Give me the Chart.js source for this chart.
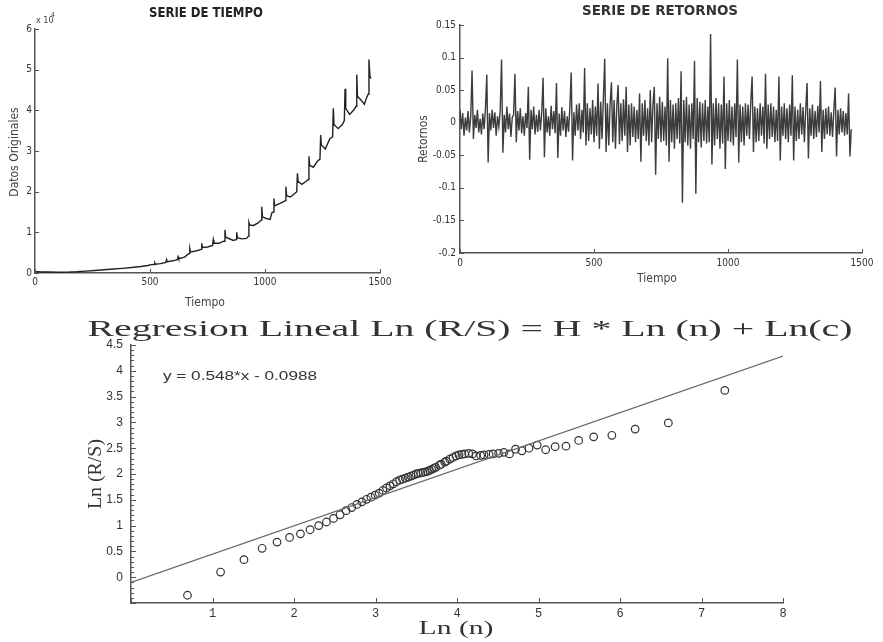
<!DOCTYPE html>
<html>
<head>
<meta charset="utf-8">
<script src="https://cdn.jsdelivr.net/npm/chart.js@4.4.1/dist/chart.umd.min.js"></script>
<style>
  html, body { margin: 0; padding: 0; background: #fff; }
  body { width: 883px; height: 642px; position: relative; overflow: hidden; }
  canvas { position: absolute; }
</style>
</head>
<body>
<canvas id="serieChart" width="420" height="312" style="left:0px;top:0px"></canvas>
<canvas id="retornosChart" width="478" height="300" style="left:405px;top:0px"></canvas>
<canvas id="regresionChart" width="883" height="334" style="left:0px;top:308px"></canvas>
<script>
// Serie de tiempo (datos originales)
const tiempoSerie = [0, 15, 30, 60, 100, 140, 180, 220, 260, 300, 340, 380, 420, 460, 490, 505, 518, 521, 524, 545,
  569, 572, 575, 600, 619, 622, 625, 650, 670, 673, 676, 700, 722, 725, 728, 750, 772, 775, 778, 800,
  815, 823, 826, 829, 850, 862, 874, 877, 880, 900, 920, 927, 930, 933, 950, 970, 983, 986, 989, 1005,
  1022, 1030, 1036, 1039, 1042, 1060, 1080, 1088, 1091, 1094, 1110, 1128, 1138, 1141, 1144, 1160, 1178, 1188, 1191, 1194,
  1210, 1228, 1239, 1242, 1245, 1262, 1282, 1294, 1297, 1300, 1318, 1336, 1345, 1348, 1351, 1368, 1385, 1396, 1399, 1402,
  1418, 1432, 1441, 1449, 1452, 1456, 1460];
const datosSerie = [350, 300, 250, 230, 200, 220, 300, 450, 620, 800, 980, 1150, 1350, 1600, 1850, 2050, 2100, 2500, 2150, 2300,
  2600, 3300, 2800, 3000, 3300, 4000, 3500, 3900, 4800, 6000, 5200, 5400, 5800, 7300, 6300, 6400, 6800, 8200, 7300, 7300,
  7700, 7800, 10600, 8800, 8300, 8000, 8200, 10000, 8700, 8400, 8500, 9000, 12400, 11800, 11700, 12300, 13000, 16300, 13800, 13400,
  13200, 14800, 15000, 18300, 16500, 17000, 17500, 17800, 21200, 19000, 18700, 19500, 20000, 24500, 22500, 21800, 22500, 23000, 28700, 26500,
  26000, 27500, 28000, 33900, 31500, 30500, 33000, 33500, 40500, 36500, 35500, 36500, 37500, 45300, 40500, 39000, 40000, 41000, 48800, 43500,
  42500, 41500, 43000, 44000, 52500, 48500, 47800];

// Serie de retornos, un valor cada 5 periodos
const pasoRetornos = 5;
const retornos = [
  0.02, -0.01, 0.015, -0.02, 0.008, -0.012, 0.018, -0.015, 0.01, 0.08,
  -0.025, 0.012, -0.008, 0.02, -0.015, 0.006, -0.018, 0.014, -0.01, 0.022,
  0.074, -0.061, 0.015, -0.012, 0.02, -0.008, 0.016, -0.02, 0.01, -0.006,
  0.018, 0.097, -0.046, 0.012, -0.015, 0.025, -0.01, 0.014, -0.022, 0.008,
  0.012, 0.075, -0.03, 0.018, -0.012, 0.022, -0.016, 0.01, -0.02, 0.015,
  -0.008, 0.055, -0.057, 0.02, -0.01, 0.025, -0.018, 0.012, -0.014, 0.02,
  -0.012, 0.016, 0.069, -0.053, 0.022, -0.015, 0.01, -0.02, 0.026, -0.01,
  0.018, -0.016, 0.061, -0.054, 0.014, -0.02, 0.024, -0.012, 0.018, -0.022,
  0.01, -0.014, 0.025, 0.077, -0.058, 0.016, -0.02, 0.028, -0.012, 0.03,
  -0.025, 0.02, -0.015, 0.084, -0.035, 0.03, -0.028, 0.022, -0.018, 0.035,
  -0.03, 0.025, -0.02, 0.06, -0.04, 0.032, -0.025, 0.038, 0.098, -0.045,
  0.03, -0.035, 0.028, 0.062, -0.03, 0.035, -0.04, 0.025, 0.058, -0.033,
  0.03, -0.028, 0.036, -0.02, 0.055, -0.045, 0.028, -0.035, 0.03, -0.022,
  0.025, -0.03, 0.02, -0.025, 0.045, -0.06, 0.03, -0.02, 0.035, -0.028,
  0.022, -0.035, 0.05, -0.03, 0.028, 0.055, -0.08, 0.03, -0.025, 0.04,
  -0.03, 0.032, -0.028, 0.025, -0.035, 0.099, -0.06, 0.035, -0.03, 0.028,
  -0.04, 0.03, -0.025, 0.038, -0.032, 0.079, -0.123, 0.035, -0.03, 0.04,
  -0.035, 0.028, -0.04, 0.03, -0.025, 0.095, -0.109, 0.038, -0.03, 0.032,
  -0.038, 0.03, -0.028, 0.035, -0.032, 0.025, -0.03, 0.136, -0.064, 0.03,
  -0.035, 0.038, -0.025, 0.03, -0.04, 0.028, -0.032, 0.071, -0.071, 0.03,
  -0.028, 0.035, -0.03, 0.025, -0.035, 0.03, -0.022, 0.097, -0.061, 0.028,
  -0.03, 0.025, -0.035, 0.03, -0.02, 0.028, -0.025, 0.032, 0.071, -0.045,
  0.025, -0.03, 0.022, -0.028, 0.03, -0.02, 0.025, -0.032, 0.075, -0.04,
  0.028, -0.025, 0.03, -0.022, 0.025, -0.03, 0.02, -0.028, 0.071, -0.058,
  0.025, -0.02, 0.03, -0.025, 0.022, -0.03, 0.028, -0.02, 0.073, -0.058,
  0.025, -0.028, 0.02, -0.025, 0.03, -0.018, 0.024, -0.03, 0.02, 0.061,
  -0.055, 0.022, -0.02, 0.028, -0.025, 0.018, -0.022, 0.026, -0.015, 0.064,
  -0.045, 0.02, -0.025, 0.022, -0.018, 0.025, -0.02, 0.016, -0.022, 0.02,
  0.054, -0.052, 0.02, -0.018, 0.022, -0.015, 0.018, -0.02, 0.015, -0.018,
  0.045, -0.052, -0.01
];

// Regresion R/S: Ln(n) y Ln(R/S)
const lnN = [0.693, 1.099, 1.386, 1.609, 1.792, 1.946, 2.079, 2.197, 2.303, 2.398,
  2.485, 2.565, 2.639, 2.708, 2.773, 2.833, 2.890, 2.944, 2.996, 3.045,
  3.091, 3.135, 3.178, 3.219, 3.258, 3.296, 3.332, 3.367, 3.401, 3.434,
  3.466, 3.497, 3.526, 3.555, 3.584, 3.611, 3.638, 3.664, 3.689, 3.714,
  3.738, 3.784, 3.807, 3.850, 3.871, 3.912, 3.951, 3.989, 4.025, 4.060,
  4.094, 4.143, 4.190, 4.234, 4.290, 4.331, 4.394, 4.443, 4.511, 4.575,
  4.644, 4.718, 4.796, 4.883, 4.984, 5.088, 5.204, 5.338, 5.493, 5.677,
  5.900, 6.186, 6.593, 7.286];
const lnRS = [-0.35, 0.10, 0.34, 0.56, 0.68, 0.77, 0.84, 0.92, 1.00, 1.07,
  1.14, 1.21, 1.29, 1.35, 1.41, 1.46, 1.51, 1.55, 1.59, 1.63,
  1.68, 1.73, 1.77, 1.81, 1.85, 1.88, 1.90, 1.92, 1.94, 1.96,
  1.98, 2.00, 2.01, 2.02, 2.03, 2.04, 2.05, 2.07, 2.09, 2.11,
  2.13, 2.17, 2.19, 2.23, 2.25, 2.29, 2.32, 2.35, 2.37, 2.38,
  2.39, 2.40, 2.39, 2.35, 2.36, 2.37, 2.38, 2.39, 2.40, 2.42,
  2.39, 2.48, 2.45, 2.50, 2.56, 2.47, 2.53, 2.54, 2.65, 2.72,
  2.75, 2.87, 2.99, 3.62];
// recta ajustada y = 0.548*x - 0.0988 (extremos)
const rectaX = [0, 8];
const rectaY = [-0.099, 4.285];

// marcas de los ejes
const ticksTiempo = [0, 500, 1000, 1500];
const ticksDatos = [0, 10000, 20000, 30000, 40000, 50000, 60000];
const ticksRetornos = [-0.2, -0.15, -0.1, -0.05, 0, 0.05, 0.1, 0.15];
const ticksLnN = [0, 1, 2, 3, 4, 5, 6, 7, 8];
const ticksLnRS = [-0.5, 0, 0.5, 1, 1.5, 2, 2.5, 3, 3.5, 4, 4.5];
const menoresLnRS = [-0.4, -0.3, -0.2, -0.1, 0.1, 0.2, 0.3, 0.4, 0.6, 0.7, 0.8, 0.9, 1.1, 1.2, 1.3, 1.4,
  1.6, 1.7, 1.8, 1.9, 2.1, 2.2, 2.3, 2.4, 2.6, 2.7, 2.8, 2.9, 3.1, 3.2, 3.3, 3.4, 3.6, 3.7, 3.8, 3.9,
  4.1, 4.2, 4.3, 4.4];

const fuenteAngosta = "'Liberation Sans Narrow', 'DejaVu Sans Condensed', 'Arial Narrow', sans-serif";
const colorEje = "#555";

// textos dibujados a mano (titulos, etiquetas)
function crearTextos(items) {
  return {
    id: "textos",
    afterDraw(chart) {
      const ctx = chart.ctx;
      items.forEach((it) => {
        ctx.save();
        ctx.font = it.font;
        ctx.fillStyle = it.color || "#222";
        ctx.textBaseline = "middle";
        ctx.textAlign = it.align || "center";
        ctx.translate(it.x, it.y);
        if (it.rotate) ctx.rotate(-Math.PI / 2);
        if (it.width) {
          const w = ctx.measureText(it.text).width;
          ctx.scale(it.width / w, 1);
        }
        ctx.fillText(it.text, 0, 0);
        ctx.restore();
      });
    },
  };
}

// marcas hacia adentro, estilo matlab
function crearMarcas(largo, menoresY, largoMenor) {
  return {
    id: "marcas",
    afterDraw(chart) {
      const ctx = chart.ctx;
      const area = chart.chartArea;
      const sx = chart.scales.x;
      const sy = chart.scales.y;
      ctx.save();
      ctx.strokeStyle = colorEje;
      ctx.lineWidth = 1;
      ctx.beginPath();
      sx.ticks.forEach((t) => {
        const px = Math.round(sx.getPixelForValue(t.value)) + 0.5;
        ctx.moveTo(px, area.bottom);
        ctx.lineTo(px, area.bottom - largo);
      });
      sy.ticks.forEach((t) => {
        const py = Math.round(sy.getPixelForValue(t.value)) + 0.5;
        ctx.moveTo(area.left, py);
        ctx.lineTo(area.left + largo, py);
      });
      (menoresY || []).forEach((v) => {
        const py = Math.round(sy.getPixelForValue(v)) + 0.5;
        ctx.moveTo(area.left, py);
        ctx.lineTo(area.left + largoMenor, py);
      });
      ctx.stroke();
      ctx.restore();
    },
  };
}

function ejeLineal(min, max, lista, fuente, padding, callback, ajuste) {
  return {
    type: "linear",
    min: min,
    max: max,
    afterBuildTicks: (s) => { s.ticks = lista.map((v) => ({ value: v })); },
    afterFit: ajuste,
    grid: { display: false, drawTicks: false },
    border: { display: true, color: colorEje, width: 1.5 },
    ticks: { font: fuente, color: "#333", padding: padding, autoSkip: false, maxRotation: 0, callback: callback },
  };
}

// Grafico 1 - Serie de tiempo
new Chart(document.getElementById("serieChart"), {
  type: "scatter",
  data: {
    datasets: [{
      data: tiempoSerie.map((t, i) => ({ x: t, y: datosSerie[i] })),
      showLine: true,
      borderColor: "#222",
      borderWidth: 1.4,
      pointRadius: 0,
      tension: 0,
    }],
  },
  options: {
    responsive: false,
    animation: false,
    layout: { padding: { left: 0, top: 29, right: 40, bottom: 0 } },
    plugins: { legend: { display: false }, tooltip: { enabled: false } },
    scales: {
      x: ejeLineal(0, 1500, ticksTiempo, { family: fuenteAngosta, size: 10 }, 3, (v) => String(v), (s) => { s.height = 39; }),
      y: ejeLineal(0, 60000, ticksDatos, { family: fuenteAngosta, size: 10 }, 3, (v) => String(v / 10000), (s) => { s.width = 35; }),
    },
  },
  plugins: [
    crearMarcas(4),
    crearTextos([
      { text: "SERIE DE TIEMPO", x: 206, y: 13, font: "bold 14px " + fuenteAngosta, width: 114 },
      { text: "x 10", x: 36, y: 21, font: "9px " + fuenteAngosta, align: "left", color: "#444" },
      { text: "4", x: 51, y: 15, font: "7px " + fuenteAngosta, align: "left", color: "#444" },
      { text: "Datos Originales", x: 15, y: 152, font: "12px " + fuenteAngosta, rotate: true, color: "#444" },
      { text: "Tiempo", x: 205, y: 303, font: "12px " + fuenteAngosta, color: "#444" },
    ]),
  ],
});

// Grafico 2 - Serie de retornos
new Chart(document.getElementById("retornosChart"), {
  type: "scatter",
  data: {
    datasets: [{
      data: retornos.map((r, i) => ({ x: i * pasoRetornos, y: r })),
      showLine: true,
      borderColor: "#3c3c3c",
      borderWidth: 1.4,
      pointRadius: 0,
      tension: 0,
    }],
  },
  options: {
    responsive: false,
    animation: false,
    layout: { padding: { left: 0, top: 25, right: 21, bottom: 0 } },
    plugins: { legend: { display: false }, tooltip: { enabled: false } },
    scales: {
      x: ejeLineal(0, 1500, ticksTiempo, { family: fuenteAngosta, size: 10 }, 4, (v) => String(v), (s) => { s.height = 47; }),
      y: ejeLineal(-0.2, 0.15, ticksRetornos, { family: fuenteAngosta, size: 10 }, 4, (v) => String(+v.toFixed(2)), (s) => { s.width = 55; }),
    },
  },
  plugins: [
    crearMarcas(4),
    crearTextos([
      { text: "SERIE DE RETORNOS", x: 255, y: 11, font: "bold 14px " + fuenteAngosta, width: 156, color: "#333" },
      { text: "Retornos", x: 19, y: 139, font: "12px " + fuenteAngosta, rotate: true, color: "#444" },
      { text: "Tiempo", x: 252, y: 279, font: "12px " + fuenteAngosta, color: "#444" },
    ]),
  ],
});

// Grafico 3 - Regresion lineal
new Chart(document.getElementById("regresionChart"), {
  type: "scatter",
  data: {
    datasets: [
      {
        data: rectaX.map((x, i) => ({ x: x, y: rectaY[i] })),
        showLine: true,
        borderColor: "#6a6a6a",
        borderWidth: 1.2,
        pointRadius: 0,
      },
      {
        data: lnN.map((x, i) => ({ x: x, y: lnRS[i] })),
        pointStyle: "circle",
        pointRadius: 3.8,
        borderColor: "#333",
        borderWidth: 1.2,
        backgroundColor: "rgba(0,0,0,0)",
      },
    ],
  },
  options: {
    responsive: false,
    animation: false,
    layout: { padding: { left: 0, top: 37, right: 100, bottom: 0 } },
    plugins: { legend: { display: false }, tooltip: { enabled: false } },
    scales: {
      x: ejeLineal(0, 8, ticksLnN, { family: "'Liberation Mono', monospace", size: 12 }, 4,
        (v) => (v === 0 ? "" : String(v)), (s) => { s.height = 39; }),
      y: ejeLineal(-0.5, 4.5, ticksLnRS, { family: "'Liberation Sans', sans-serif", size: 12 }, 8,
        (v) => (v === -0.5 ? "" : String(v)), (s) => { s.width = 131; }),
    },
  },
  plugins: [
    crearMarcas(5, menoresLnRS, 3),
    crearTextos([
      { text: "Regresion Lineal Ln (R/S) = H * Ln (n) + Ln(c)", x: 470, y: 22, font: "24px 'Liberation Serif', serif", width: 765, color: "#333" },
      { text: "y = 0.548*x - 0.0988", x: 163, y: 69, font: "12px 'Liberation Sans', sans-serif", align: "left", width: 154, color: "#333" },
      { text: "Ln (R/S)", x: 96, y: 166, font: "18px 'Liberation Serif', serif", rotate: true, width: 70, color: "#333" },
      { text: "Ln (n)", x: 456, y: 321, font: "18px 'Liberation Serif', serif", width: 75, color: "#333" },
    ]),
  ],
});
</script>
</body>
</html>
